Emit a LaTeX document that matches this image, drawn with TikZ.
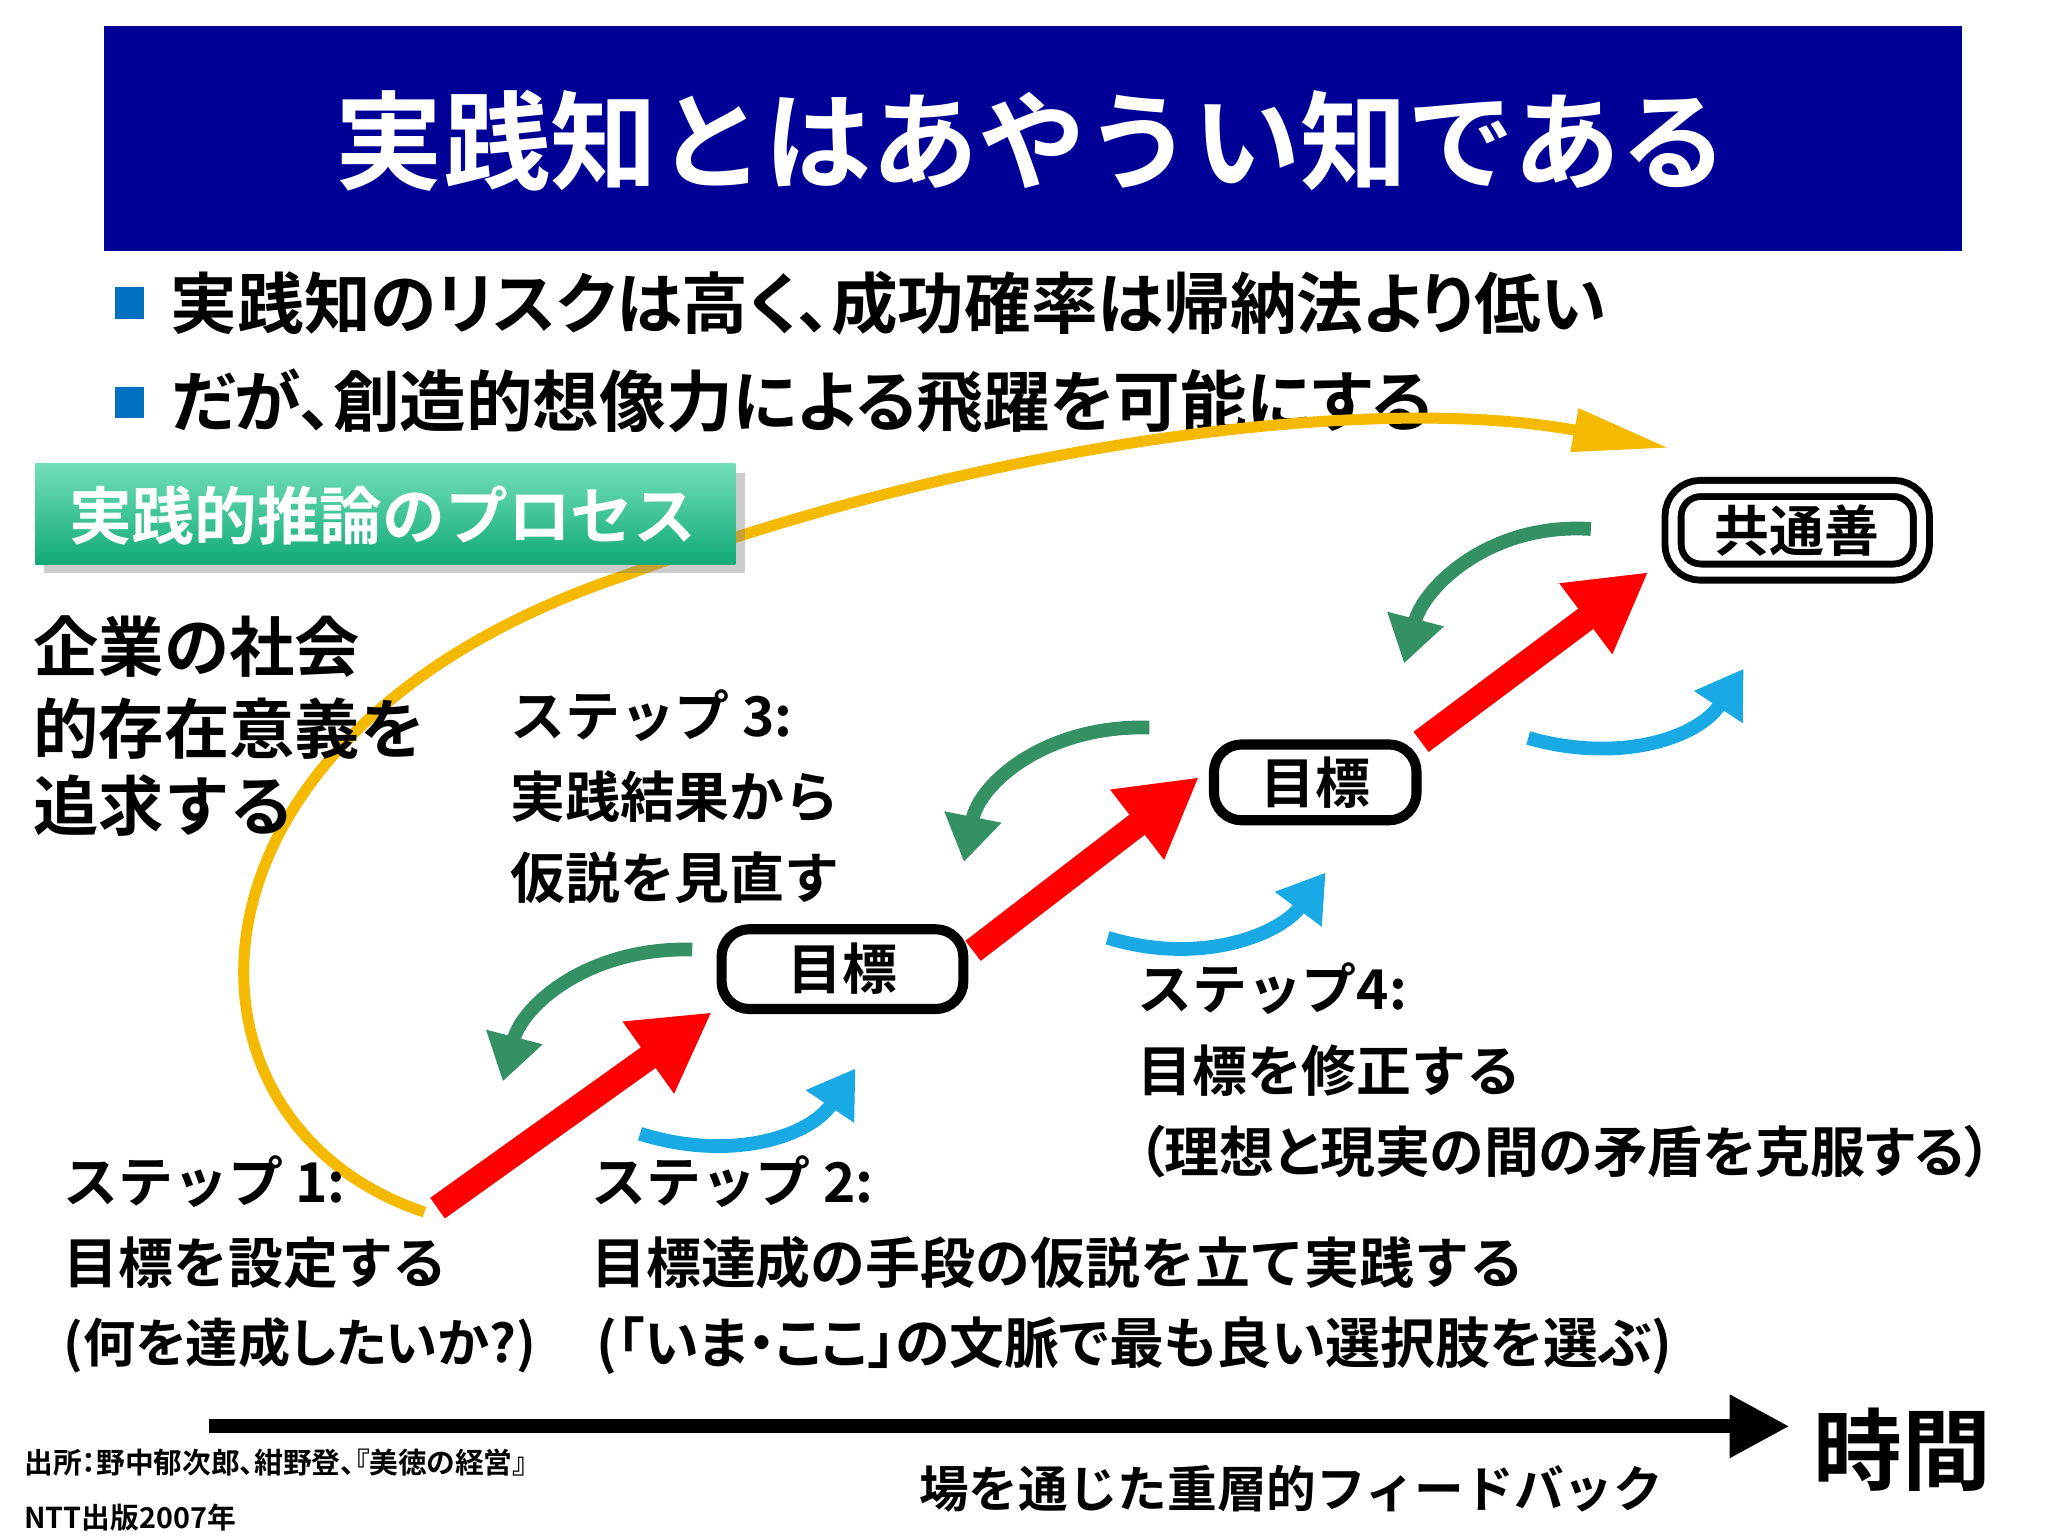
\documentclass[tikz,border=0pt]{standalone}
\usepackage{fontspec}
\setmainfont{Noto Sans CJK JP}[BoldFont={* Bold}]
\newfontfamily\pfont{Noto Sans CJK JP}[BoldFont={* Bold},RawFeature=+palt]
\usetikzlibrary{arrows.meta,shadows}
\definecolor{navy}{RGB}{0,0,150}
\definecolor{sqblue}{RGB}{0,112,192}
\definecolor{gold}{RGB}{245,185,0}
\definecolor{grn}{RGB}{51,145,100}
\definecolor{sky}{RGB}{25,170,230}
\definecolor{gbox}{RGB}{20,200,140}
\newcommand{\px}[1]{\fontsize{\fpeval{#1*0.2845}pt}{\fpeval{#1*0.34}pt}\selectfont}
\tikzset{x=0.01cm,y=-0.01cm,
 txt/.style={anchor=west,inner sep=0,font=\bfseries\px{42}},
 goal/.style={draw,line width=2.2pt,rounded corners=6pt,font=\bfseries\px{42},inner sep=0},
 redar/.style={red,line width=5.5pt,-{Triangle[length=17pt,width=18pt]}},
 grar/.style={grn,line width=3pt,-{Triangle[length=10pt,width=12pt]}},
 blar/.style={sky,line width=3pt,-{Triangle[length=10pt,width=12pt]}}}
\begin{document}
\begin{tikzpicture}
\useasboundingbox[fill=white] (0,0) rectangle (1568,1176);
\fill[navy] (80,20) rectangle (1502,192);
\node[white,font=\bfseries\px{82}] (title) at (790,108) {実践知とはあやうい知である};
\fill[sqblue] (88,220) rectangle (110,244);
\fill[sqblue] (88,296) rectangle (110,320);
\node[txt,font=\pfont\bfseries\px{51}] (b1) at (130,232) {実践知のリスクは高く、成功確率は帰納法より低い};
\node[txt,font=\pfont\bfseries\px{51}] (b2) at (130,307) {だが、創造的想像力による飛躍を可能にする};
% yellow curve
\coordinate (ys) at (325,928);
\coordinate (ye) at (1278,343);
\draw[gold,line width=2.4pt,-{Triangle[length=21pt,width=9pt]}] (ys) .. controls (120,860) and (120,560) .. (480,440) .. controls (750,340) and (1050,300) .. (ye);
\shade[top color=gbox!60!white,bottom color=gbox!85!black,drop shadow={shadow xshift=2pt,shadow yshift=-2pt,opacity=0.4}] (27,355) rectangle (563,432);
\node[white,font=\bfseries\px{48}] (proc) at (293,395) {実践的推論のプロセス};
\node[txt,font=\bfseries\px{50}] (l1) at (25,495) {企業の社会};
\node[txt,font=\bfseries\px{50}] (l2) at (25,558) {的存在意義を};
\node[txt,font=\bfseries\px{50}] (l3) at (25,617) {追求する};
% boxes
\node[goal,double,double distance=2pt,line width=1.5pt,minimum width=1.9cm,minimum height=0.64cm] (cg) at (1376,406) {};
\node[font=\bfseries\px{42}] (cgt) at (1376,406) {共通善};
\node[goal,minimum width=1.85cm,minimum height=0.61cm] (g1) at (645,742) {目標};
\node[goal,minimum width=1.55cm,minimum height=0.58cm] (g2) at (1007,599) {目標};
% red arrows
\coordinate (r1s) at (335,925);
\draw[redar] (r1s) -- (545,775);
\coordinate (r2s) at (745,728);
\draw[redar] (r2s) -- (918,595);
\coordinate (r3s) at (1088,568);
\draw[redar] (r3s) -- (1262,438);
% green arrows
\draw[grar] (530,727) .. controls (450,725) and (400,770) .. (385,828);
\draw[grar] (880,557) .. controls (800,555) and (750,600) .. (738,660);
\draw[grar] (1218,405) .. controls (1140,400) and (1090,450) .. (1075,508);
% blue arrows
\draw[blar] (490,868) .. controls (560,890) and (620,870) .. (655,818);
\draw[blar] (848,718) .. controls (920,740) and (980,715) .. (1015,668);
\draw[blar] (1170,565) .. controls (1240,585) and (1300,565) .. (1335,512);
% steps
\node[txt] (s3a) at (390,548) {ステップ 3:};
\node[txt] (s3b) at (390,610) {実践結果から};
\node[txt] (s3c) at (390,672) {仮説を見直す};
\node[txt] (s4a) at (870,757) {ステップ4:};
\node[txt] (s4b) at (870,820) {目標を修正する};
\node[txt,font=\pfont\bfseries\px{42}] (s4c) at (870,882) {（理想と現実の間の矛盾を克服する）};
\node[txt] (s1a) at (48,905) {ステップ 1:};
\node[txt] (s1b) at (48,967) {目標を設定する};
\node[txt,font=\pfont\bfseries\px{40}] (s1c) at (48,1030) {(何を達成したいか?)};
\node[txt] (s2a) at (452,905) {ステップ 2:};
\node[txt] (s2b) at (452,967) {目標達成の手段の仮説を立て実践する};
\node[txt,font=\pfont\bfseries\px{42}] (s2c) at (456,1030) {(「いま・ここ」の文脈で最も良い選択肢を選ぶ)};
% time axis
\coordinate (t0) at (160,1092);
\node[txt,font=\bfseries\px{68}] (time) at (1388,1110) {時間};
\draw[line width=3pt,-{Triangle[length=13pt,width=13pt]}] (t0) -- (1370,1092);
\node[txt,font=\pfont\bfseries\px{22}] (src1) at (18,1120) {出所：野中郁次郎、紺野登、『美徳の経営』};
\node[txt,font=\bfseries\px{22}] (src2) at (18,1162) {NTT出版2007年};
\node[txt,font=\bfseries\px{38}] (fb) at (703,1140) {場を通じた重層的フィードバック};
\end{tikzpicture}
\end{document}
